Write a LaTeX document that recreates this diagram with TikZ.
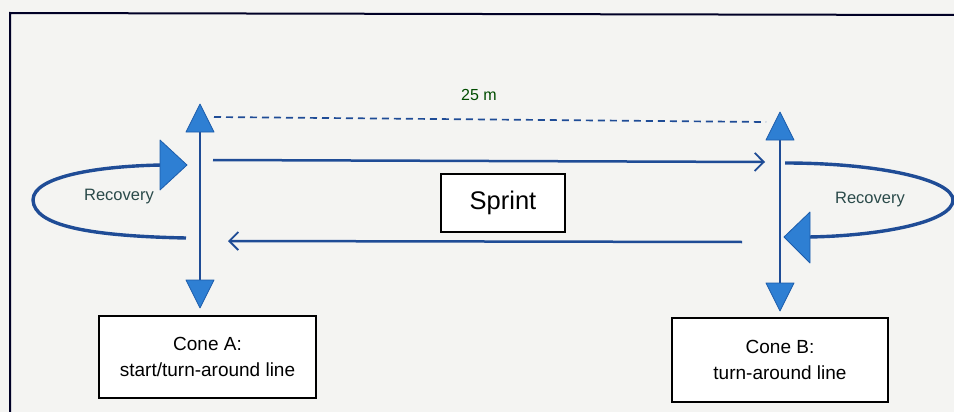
\documentclass[tikz,border=0pt]{standalone}
\usepackage{fontspec}
\setmainfont{Liberation Sans}
\usetikzlibrary{arrows.meta}
\definecolor{lineblue}{HTML}{1F4C96}
\definecolor{trifill}{HTML}{2E7FD3}
\definecolor{triedge}{HTML}{1C5CAB}
\definecolor{bg}{HTML}{F4F4F2}
\definecolor{lbltext}{HTML}{2A4A4A}
\tikzset{
  tri/.style={fill=trifill, draw=triedge, line width=0.8pt, line join=round},
  poleline/.style={draw=lineblue, line width=1.5pt},
  runline/.style={draw=lineblue, line width=2.5pt, -{Straight Barb[length=9pt,width=18pt,line width=1.8pt]}},
  loopline/.style={draw=lineblue, line width=3.4pt},
  txtbox/.style={draw=black, line width=1.3pt, fill=white, align=center, inner sep=0pt},
  lbl/.style={text=lbltext, font=\fontsize{16.5}{18}\selectfont}
}
\begin{document}
\begin{tikzpicture}[x=1pt,y=-1pt]
\useasboundingbox (0,0) rectangle (954,412);
\fill[bg] (0,0) rectangle (954,412);
% frame
\draw[black!85!blue, line width=2pt] (10,412) -- (10,13) -- (954,15);

% cones coordinates
\coordinate (atop) at (200,104);
\coordinate (abot) at (200,308);
\coordinate (btop) at (780,112);
\coordinate (bbot) at (780,311);

% vertical lines
\draw[poleline] (200,132) -- (200,281);
\draw[poleline] (780,139) -- (780,284);
% cone triangles
\path[tri] (atop) -- (214,132) -- (186,132) -- cycle;
\path[tri] (abot) -- (214,280) -- (186,280) -- cycle;
\path[tri] (btop) -- (794,140) -- (766,140) -- cycle;
\path[tri] (bbot) -- (794,283) -- (766,283) -- cycle;

% dashed 25 m line
\coordinate (d1) at (214,117);
\coordinate (d2) at (766,122);
\draw[lineblue, line width=1.7pt, dash pattern=on 7pt off 5pt] (d1) -- (d2);
\node[lbl, text=black!70!green, font=\fontsize{16}{18}\selectfont] (dist) at (479,95) {25 m};

% sprint arrows
\coordinate (r1) at (213,160);
\coordinate (r2) at (765,162);
\coordinate (l1) at (742,242);
\coordinate (l2) at (228,241);
\draw[runline] (r1) -- (r2);
\draw[runline] (l1) -- (l2);

% sprint box
\node[txtbox, minimum width=124pt, minimum height=58pt, font=\fontsize{25.5}{28}\selectfont] (sprint) at (503,203) {Sprint};

% left recovery loop
\coordinate (la) at (186,238);
\coordinate (lb) at (162,165);
\draw[loopline] (la) .. controls (90,236) and (34,226) .. (33,200)
  .. controls (33,176) and (100,166) .. (lb);
\path[tri] (187,165) -- (160,190) -- (160,140) -- cycle;
\node[lbl] (recl) at (119,197) {Recovery};

% right recovery loop
\coordinate (ra) at (785,163);
\coordinate (rb) at (808,237);
\draw[loopline] (ra) .. controls (880,163) and (953,180) .. (953,200)
  .. controls (953,222) and (880,236) .. (rb);
\path[tri] (784,237) -- (810,212) -- (810,263) -- cycle;
\node[lbl] (recr) at (870,200) {Recovery};

% cone boxes
\node[txtbox, minimum width=217pt, minimum height=82pt, font=\fontsize{19}{26}\selectfont] (conea) at (207.5,357) {Cone A:\\start/turn-around line};
\node[txtbox, minimum width=216pt, minimum height=84pt, font=\fontsize{19}{26}\selectfont] (coneb) at (780,360) {Cone B:\\turn-around line};
\end{tikzpicture}
\end{document}
